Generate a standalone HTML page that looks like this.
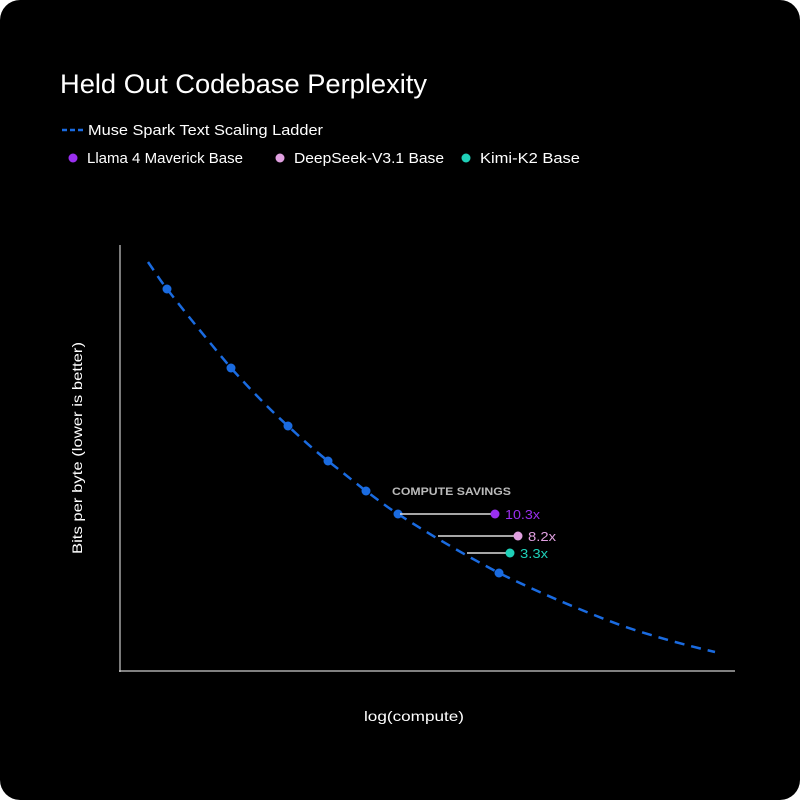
<!DOCTYPE html>
<html><head><meta charset="utf-8"><style>
html,body{margin:0;padding:0;background:#fff;}
.c{width:800px;height:800px;background:#000;border-radius:20px;position:relative;overflow:hidden;font-family:"Liberation Sans",sans-serif;color:#fff;}
</style></head><body><div class="c">
<svg width="800" height="800" style="position:absolute;left:0;top:0" font-family="Liberation Sans, sans-serif">
<text x="60" y="93" font-size="27" fill="#fff" textLength="367" lengthAdjust="spacingAndGlyphs">Held Out Codebase Perplexity</text>
<line x1="62" y1="130" x2="84" y2="130" stroke="#1a6be0" stroke-width="2.5" stroke-dasharray="5,3"/>
<text x="88" y="135" font-size="15" fill="#fff" textLength="235" lengthAdjust="spacingAndGlyphs">Muse Spark Text Scaling Ladder</text>
<circle cx="73" cy="158" r="4.5" fill="#9a2ff0"/>
<text x="87" y="163" font-size="15" fill="#fff" textLength="156" lengthAdjust="spacingAndGlyphs">Llama 4 Maverick Base</text>
<circle cx="280" cy="158" r="4.5" fill="#e0a0e0"/>
<text x="294" y="163" font-size="15" fill="#fff" textLength="150" lengthAdjust="spacingAndGlyphs">DeepSeek-V3.1 Base</text>
<circle cx="466" cy="158" r="4.5" fill="#1fd0b8"/>
<text x="480" y="163" font-size="15" fill="#fff" textLength="100" lengthAdjust="spacingAndGlyphs">Kimi-K2 Base</text>
<line x1="120" y1="245" x2="120" y2="672" stroke="#ccc" stroke-width="1.2"/>
<line x1="119" y1="671" x2="735" y2="671" stroke="#ccc" stroke-width="1.2"/>
<text x="364" y="721" font-size="14" fill="#fff" textLength="100" lengthAdjust="spacingAndGlyphs">log(compute)</text>
<text transform="translate(82,554) rotate(-90)" font-size="14" fill="#fff" textLength="212" lengthAdjust="spacingAndGlyphs">Bits per byte (lower is better)</text>
<path d="M148,262 C155,272 160,280 167,289 C188,316 210,343 231,368 C250,389 268,408 288,426 C301,438 314,450 328,461 C341,471 353,481 366,491 C377,499 387,507 398,514 C432,536 465,555 499,573 C540,593 580,610 620,625 C655,637 685,645 715,652" fill="none" stroke="#1a6be0" stroke-width="2.5" stroke-dasharray="10,7"/>
<g fill="#1a6be0">
<circle cx="167" cy="289" r="4.5"/><circle cx="231" cy="368" r="4.5"/><circle cx="288" cy="426" r="4.5"/><circle cx="328" cy="461" r="4.5"/><circle cx="366" cy="491" r="4.5"/><circle cx="398" cy="514" r="4.5"/><circle cx="499" cy="573" r="4.5"/>
</g>
<text x="392" y="495" font-size="11" font-weight="bold" fill="#bbb" textLength="119" lengthAdjust="spacingAndGlyphs">COMPUTE SAVINGS</text>
<line x1="400" y1="514" x2="495" y2="514" stroke="#ddd" stroke-width="1.5"/>
<circle cx="495" cy="514" r="4.5" fill="#9a2ff0"/>
<text x="505" y="519" font-size="13" fill="#9a2ff0" textLength="35" lengthAdjust="spacingAndGlyphs">10.3x</text>
<line x1="438" y1="536" x2="518" y2="536" stroke="#ddd" stroke-width="1.5"/>
<circle cx="518" cy="536" r="4.5" fill="#e0a0e0"/>
<text x="528" y="541" font-size="13" fill="#e0a0e0" textLength="28" lengthAdjust="spacingAndGlyphs">8.2x</text>
<line x1="467" y1="553" x2="510" y2="553" stroke="#ddd" stroke-width="1.5"/>
<circle cx="510" cy="553" r="4.5" fill="#1fd0b8"/>
<text x="520" y="558" font-size="13" fill="#1fd0b8" textLength="28" lengthAdjust="spacingAndGlyphs">3.3x</text>
</svg>
</div></body></html>
